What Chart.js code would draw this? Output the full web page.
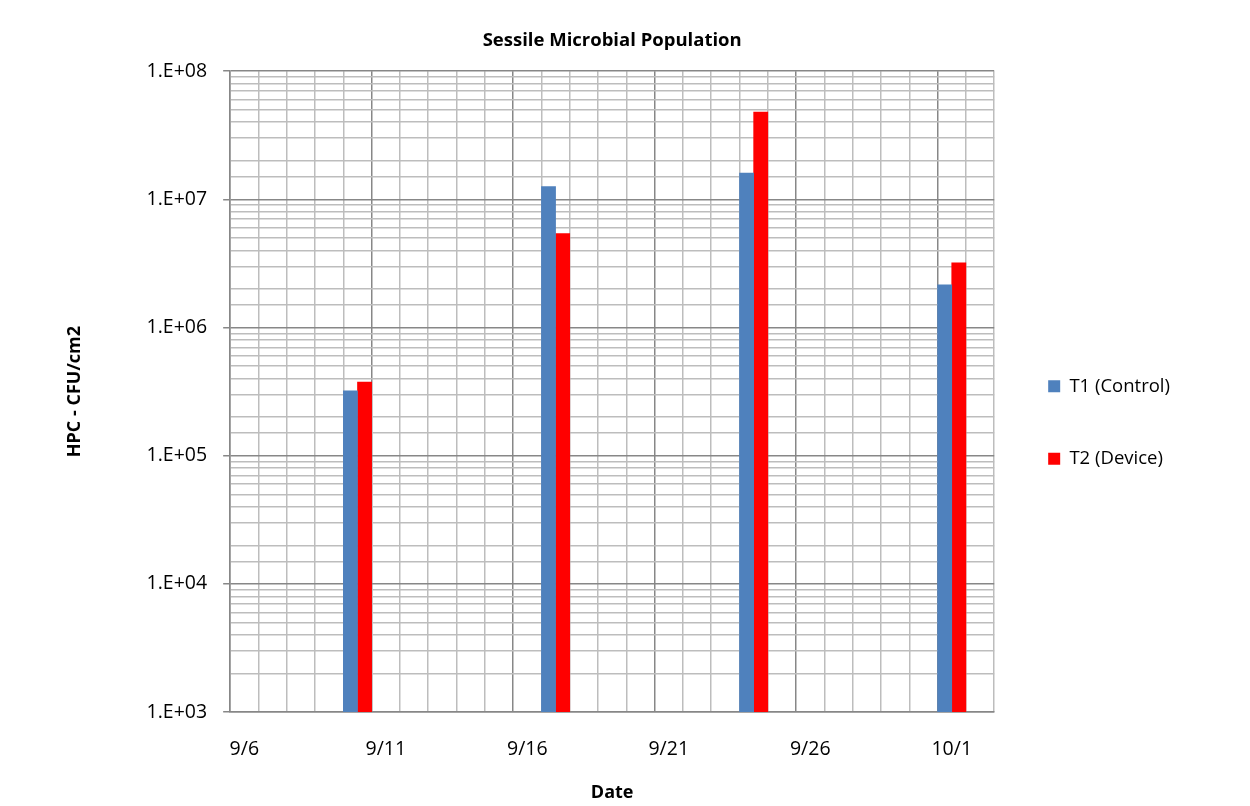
<!DOCTYPE html>
<html><head><meta charset="utf-8">
<script src="https://cdn.jsdelivr.net/npm/chart.js@4.4.1/dist/chart.umd.min.js"></script>
<style>html,body{margin:0;padding:0;background:#fff;} #wrap{width:1250px;height:806px;position:relative;}</style>
</head><body><div id="wrap"><canvas id="c"></canvas></div>
<script>
const categories = ['9/6','9/7','9/8','9/9','9/10','9/11','9/12','9/13','9/14','9/15','9/16','9/17','9/18','9/19','9/20','9/21','9/22','9/23','9/24','9/25','9/26','9/27','9/28','9/29','9/30','10/1','10/2'];
const labelledDates = ['9/6','9/11','9/16','9/21','9/26','10/1'];
const sampleDates = ['9/10','9/17','9/24','10/1'];
const t1Control = [3.2e5, 1.26e7, 1.6e7, 2.15e6];
const t2Device = [3.75e5, 5.4e6, 4.8e7, 3.2e6];

const MAJOR = '#878787', MINOR = '#bdbdbd';
const isDecade = v => Math.abs(Math.log10(v) - Math.round(Math.log10(v))) < 1e-6;

Chart.defaults.font.family = "'Open Sans', sans-serif";
Chart.defaults.color = '#000';

new Chart(document.getElementById('c'), {
  type: 'bar',
  data: {
    labels: categories,
    datasets: [
      { label: 'T1 (Control)', data: sampleDates.map((d, i) => ({ x: d, y: t1Control[i] })), backgroundColor: '#4F81BD' },
      { label: 'T2 (Device)', data: sampleDates.map((d, i) => ({ x: d, y: t2Device[i] })), backgroundColor: '#FF0000' }
    ]
  },
  options: {
    responsive: true, maintainAspectRatio: false, animation: false, devicePixelRatio: 1,
    layout: { padding: { left: 0, right: 70, top: 0, bottom: 0 } },
    datasets: { bar: { barPercentage: 1, categoryPercentage: 1 } },
    scales: {
      x: {
        type: 'category', offset: true,
        grid: { offset: true, color: c => (c.index % 5 === 0 ? MAJOR : MINOR), lineWidth: 1.5, drawTicks: true, tickLength: 24, tickColor: 'rgba(0,0,0,0)' },
        border: { color: MAJOR, width: 1.5 },
        ticks: { autoSkip: false, maxRotation: 0, padding: 2, color: '#000', font: { size: 19.5 },
          callback: (v, i) => (labelledDates.includes(categories[i]) ? categories[i] : '') },
        title: { display: true, text: 'Date', color: '#000', font: { size: 18, weight: 'bold' }, padding: { top: 19, bottom: 2 } }
      },
      y: {
        type: 'logarithmic', min: 1e3, max: 1e8,
        grid: { color: c => (c.tick && isDecade(c.tick.value) ? MAJOR : MINOR), lineWidth: 1.5, tickLength: 7,
          tickColor: c => (c.tick && isDecade(c.tick.value) ? MAJOR : 'rgba(0,0,0,0)') },
        border: { color: MAJOR, width: 1.5 },
        ticks: { autoSkip: false, padding: 16, color: '#000', font: { size: 19.5 },
          callback: v => (isDecade(v) ? '1.E+' + String(Math.round(Math.log10(v))).padStart(2, '0') : '') },
        title: { display: true, text: 'HPC - CFU/cm2', color: '#000', font: { size: 18, weight: 'bold' }, padding: { top: 64, bottom: 45 } }
      }
    },
    plugins: {
      title: { display: true, text: 'Sessile Microbial Population', color: '#000', font: { size: 18.5, weight: 'bold' }, padding: { top: 30, bottom: 19 }, fullSize: false },
      legend: { position: 'right', fullSize: false,
        labels: { boxWidth: 12, boxHeight: 12, padding: 54, color: '#000', font: { size: 18.5 } },
        title: { display: true, text: '', font: { size: 10 }, padding: { top: 50, bottom: 0 } } },
      tooltip: { enabled: false }
    }
  }
});
</script></body></html>
